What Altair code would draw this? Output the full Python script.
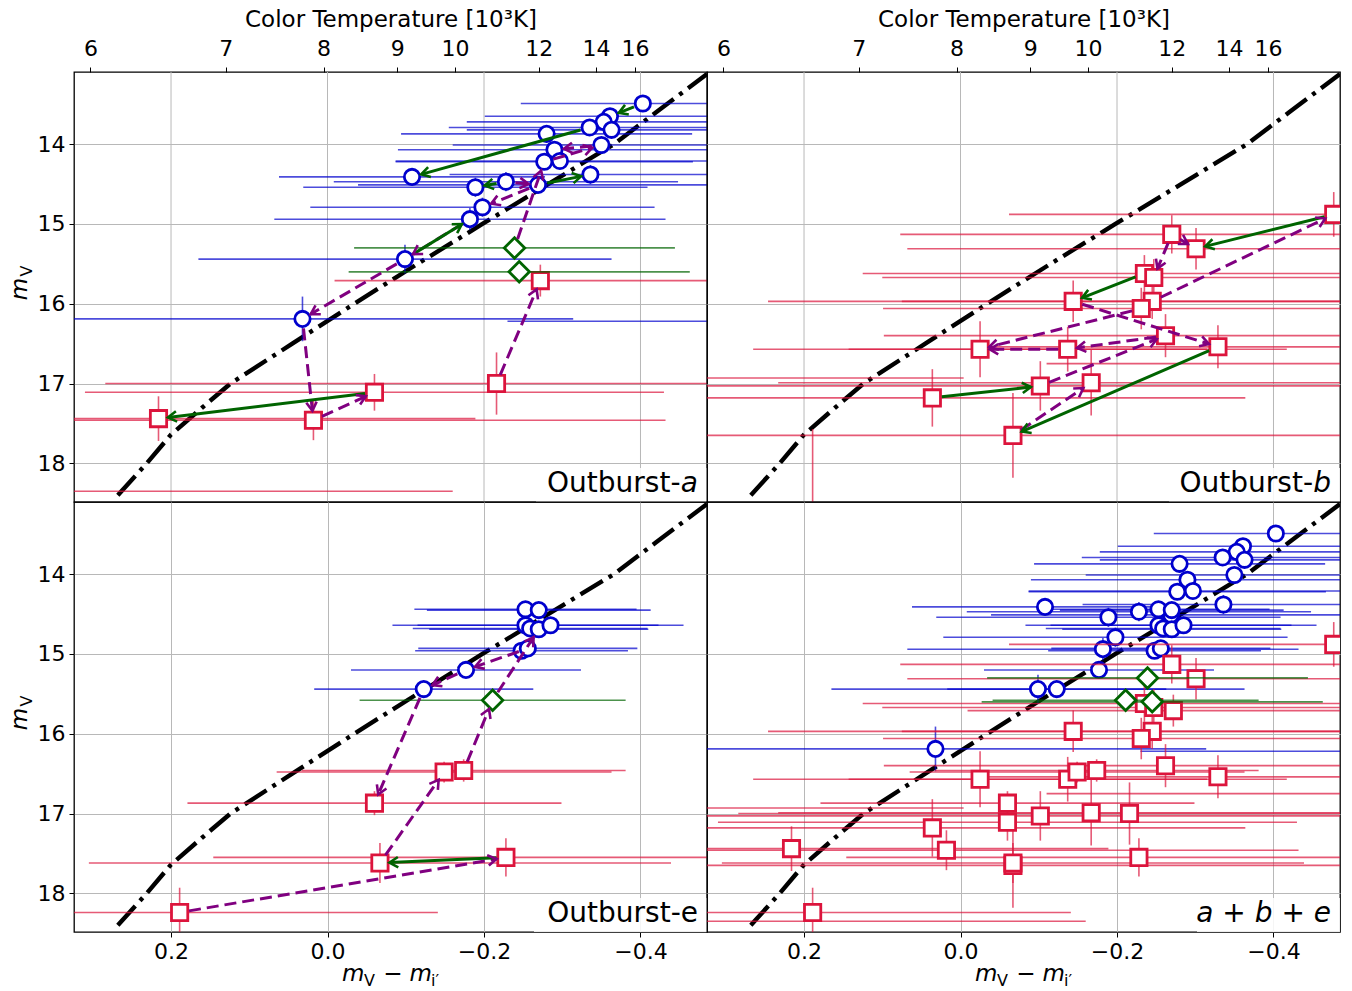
import math
import pandas as pd
import altair as alt

# ---------------- layout / axes ----------------
W, H = 633, 430
X_DOMAIN = [-0.485, 0.324]
Y_DOMAIN = [13.095, 18.485]
X_TICKS = [0.2, 0.0, -0.2, -0.4]
Y_TICKS = [14, 15, 16, 17, 18]
TEMP_POS = [0.303, 0.130, 0.005, -0.089, -0.163, -0.270, -0.343, -0.393]
TEMP_LABELS = ["6", "7", "8", "9", "10", "12", "14", "16"]
TOP_TITLE = "Color Temperature [10³K]"

# blackbody locus
BB_C = [0.268, 0.231, 0.200, 0.160, 0.124, 0.045, -0.034, -0.115, -0.198, -0.282, -0.366, -0.420, -0.485]
BB_M = [18.40, 18.00, 17.64, 17.30, 17.00, 16.50, 16.00, 15.50, 15.00, 14.50, 14.00, 13.60, 13.12]

# ---------------- Outburst-a ----------------
A_BLUE_C = [-0.403, -0.361, -0.353, -0.363, -0.335, -0.350, -0.280, -0.290, -0.277, -0.297,
            -0.108, -0.336, -0.228, -0.189, -0.269, -0.198, -0.182, -0.099, 0.032, -0.620]
A_BLUE_M = [13.49, 13.65, 13.72, 13.82, 13.79, 14.01, 13.87, 14.07, 14.22, 14.21,
            14.41, 14.38, 14.47, 14.54, 14.51, 14.79, 14.94, 15.44, 16.19, 16.22]
A_BLUE_XERR = [0.156, 0.160, 0.175, 0.185, 0.180, 0.190, 0.186, 0.200, 0.190, 0.210,
               0.170, 0.180, 0.220, 0.220, 0.230, 0.220, 0.250, 0.264, 0.346, 0.390]
A_BLUE_YERR = [0.08, 0.08, 0.08, 0.08, 0.08, 0.09, 0.10, 0.10, 0.10, 0.10,
               0.10, 0.12, 0.12, 0.12, 0.10, 0.12, 0.14, 0.18, 0.28, 0.10]
A_RED_C = [0.216, 0.018, -0.060, -0.216, -0.272, 0.360]
A_RED_M = [17.44, 17.46, 17.11, 17.00, 15.71, 18.35]
A_RED_XERR = [0.405, 0.450, 0.370, 0.500, 0.263, 0.520]
A_RED_YERR = [0.28, 0.25, 0.23, 0.39, 0.20, 0.20]
A_GRN_C = [-0.239, -0.245]
A_GRN_M = [15.30, 15.60]
A_GRN_XERR = [0.205, 0.218]
A_GRN_YERR = [0.10, 0.12]
ARROWS_A = [("r", 3, "r", 4, "p"), ("g", 0, "b", 8, "p"), ("b", 8, "b", 5, "p"), ("b", 5, "b", 7, "p"),
            ("b", 0, "b", 1, "g"), ("b", 4, "b", 10, "g"), ("b", 14, "b", 11, "g"), ("b", 12, "b", 13, "g"),
            ("b", 12, "b", 14, "p"), ("b", 14, "b", 15, "p"), ("b", 16, "b", 17, "p"), ("b", 17, "b", 16, "g"),
            ("b", 17, "b", 18, "p"), ("b", 18, "r", 1, "p"), ("r", 1, "r", 2, "p"), ("r", 2, "r", 0, "g")]

# ---------------- Outburst-b ----------------
B_RED_C = [-0.477, -0.270, -0.301, -0.235, -0.247, -0.144, -0.245, -0.231, -0.262, -0.329,
           -0.025, -0.137, -0.102, -0.167, 0.036, -0.067, 0.360, -0.600]
B_RED_M = [14.88, 15.13, 15.31, 15.62, 15.67, 15.97, 15.97, 16.06, 16.40, 16.54,
           16.57, 16.57, 17.03, 16.99, 17.18, 17.65, 16.93, 16.75]
B_RED_XERR = [0.415, 0.347, 0.369, 0.360, 0.347, 0.390, 0.320, 0.330, 0.360, 0.300,
              0.290, 0.280, 0.430, 0.400, 0.400, 0.450, 0.364, 0.490]
B_RED_YERR = [0.28, 0.24, 0.26, 0.23, 0.23, 0.26, 0.22, 0.26, 0.27, 0.27,
              0.35, 0.28, 0.31, 0.41, 0.36, 0.53, 0.20, 0.20]
B_EXTRA_C = [0.189]
B_EXTRA_M = [19.00]
B_EXTRA_XERR = [0.30]
B_EXTRA_YERR = [1.43]
ARROWS_B = [("r", 0, "r", 2, "g"), ("r", 3, "r", 5, "g"), ("r", 14, "r", 12, "g"), ("r", 9, "r", 15, "g"),
            ("r", 1, "r", 2, "p"), ("r", 1, "r", 4, "p"), ("r", 5, "r", 9, "p"), ("r", 6, "r", 0, "p"),
            ("r", 7, "r", 10, "p"), ("r", 11, "r", 10, "p"), ("r", 8, "r", 11, "p"), ("r", 12, "r", 8, "p"),
            ("r", 15, "r", 13, "p")]

# ---------------- Outburst-e ----------------
E_BLUE_C = [-0.253, -0.270, -0.253, -0.259, -0.270, -0.285, -0.248, -0.256, -0.177, -0.123]
E_BLUE_M = [14.44, 14.45, 14.64, 14.68, 14.69, 14.64, 14.96, 14.93, 15.20, 15.44]
E_BLUE_XERR = [0.142, 0.143, 0.170, 0.150, 0.140, 0.170, 0.136, 0.140, 0.147, 0.140]
E_BLUE_YERR = [0.07, 0.07, 0.07, 0.07, 0.07, 0.07, 0.08, 0.08, 0.10, 0.10]
E_RED_C = [-0.149, -0.174, -0.060, -0.228, -0.067, 0.189]
E_RED_M = [16.48, 16.46, 16.87, 17.55, 17.62, 18.24]
E_RED_XERR = [0.214, 0.207, 0.239, 0.374, 0.372, 0.330]
E_RED_YERR = [0.13, 0.14, 0.15, 0.24, 0.25, 0.31]
E_GRN_C = [-0.211]
E_GRN_M = [15.58]
E_GRN_XERR = [0.170]
E_GRN_YERR = [0.10]
ARROWS_E = [("r", 5, "r", 3, "p"), ("r", 3, "r", 4, "g"), ("r", 4, "r", 0, "p"), ("r", 1, "g", 0, "p"),
            ("g", 0, "b", 4, "p"), ("b", 7, "b", 8, "p"), ("b", 8, "b", 9, "p"), ("b", 9, "r", 2, "p")]

# ---------------- styles ----------------
FONT = "DejaVu Sans"
PURPLE = "#800080"
DKGREEN = "#006400"
GRID = "#b8b8b8"
STYLE = {
    "b": dict(shape="circle", size=235, color="#0000cd"),
    "r": dict(shape="square", size=265, color="#dc143c"),
    "g": dict(shape="diamond", size=420, color="#006400"),
}
ARROW_PATH = "M -1 -0.6 L 0 0 L -1 0.6"

PX = W / (X_DOMAIN[1] - X_DOMAIN[0])
PY = H / (Y_DOMAIN[1] - Y_DOMAIN[0])

XS = alt.Scale(domain=X_DOMAIN, reverse=True, nice=False, zero=False)
YS = alt.Scale(domain=Y_DOMAIN, reverse=True, nice=False, zero=False)

LABEL_EXPR = " : ".join(
    f"abs(datum.value - ({p})) < 0.0005 ? '{l}'" for p, l in zip(TEMP_POS, TEMP_LABELS)
) + " : ''"

AXIS_COMMON = dict(labelFont=FONT, labelFontSize=22, labelColor="black", tickColor="black",
                   tickSize=5, tickWidth=1, gridColor=GRID, gridWidth=1, domain=False,
                   labelOverlap=False, labelFlush=False)
AX_TOP = alt.Axis(orient="top", values=TEMP_POS, labelExpr=LABEL_EXPR, grid=False,
                  title=TOP_TITLE, titleFont=FONT, titleFontSize=23, titleFontWeight="normal",
                  titleColor="black", titlePadding=6, labelPadding=7, **AXIS_COMMON)
AX_BOTTOM = alt.Axis(orient="bottom", values=X_TICKS, format=".1f", grid=True, title=None,
                     labelPadding=4, **AXIS_COMMON)
AX_LEFT = alt.Axis(values=Y_TICKS, format="d", grid=True, title=None, labelPadding=4, **AXIS_COMMON)
AX_RIGHT = alt.Axis(values=Y_TICKS, grid=True, labels=False, ticks=False, domain=False, title=None,
                    gridColor=GRID, gridWidth=1)

ONE = pd.DataFrame({"k": [0]})


def make_df(c, m, xe, ye):
    return pd.DataFrame({
        "c": c, "m": m,
        "lo": [a - e for a, e in zip(c, xe)],
        "hi": [a + e for a, e in zip(c, xe)],
        "ylo": [a - e for a, e in zip(m, ye)],
        "yhi": [a + e for a, e in zip(m, ye)],
    })


A = {"b": (A_BLUE_C, A_BLUE_M, A_BLUE_XERR, A_BLUE_YERR),
     "r": (A_RED_C, A_RED_M, A_RED_XERR, A_RED_YERR),
     "g": (A_GRN_C, A_GRN_M, A_GRN_XERR, A_GRN_YERR)}
B = {"r": (B_RED_C, B_RED_M, B_RED_XERR, B_RED_YERR)}
E = {"b": (E_BLUE_C, E_BLUE_M, E_BLUE_XERR, E_BLUE_YERR),
     "r": (E_RED_C, E_RED_M, E_RED_XERR, E_RED_YERR),
     "g": (E_GRN_C, E_GRN_M, E_GRN_XERR, E_GRN_YERR)}
ALL = {}
for k in "brg":
    ALL[k] = tuple(sum((list(P[k][i]) for P in (A, B, E) if k in P), []) for i in range(4))


def arrow_df(P, arrows):
    rows = []
    for k1, i1, k2, i2, st in arrows:
        c1, m1 = P[k1][0][i1], P[k1][1][i1]
        c2, m2 = P[k2][0][i2], P[k2][1][i2]
        dx = -(c2 - c1) * PX
        dy = (m2 - m1) * PY
        L = math.hypot(dx, dy)
        ux, uy = dx / L, dy / L
        s0, s1 = 9.5, 9.5
        rows.append({
            "xa": c1 - ux * s0 / PX, "ya": m1 + uy * s0 / PY,
            "xb": c2 + ux * s1 / PX, "yb": m2 - uy * s1 / PY,
            "ang": math.degrees(math.atan2(uy, ux)) % 360,
            "col": PURPLE if st == "p" else DKGREEN, "st": st,
        })
    return pd.DataFrame(rows, columns=["xa", "ya", "xb", "yb", "ang", "col", "st"])


def text_layer(txt, x, y, size, italic=False, align="left", angle=0):
    kw = dict(text=txt, font=FONT, fontSize=size, align=align, baseline="alphabetic", color="black")
    if italic:
        kw["fontStyle"] = "italic"
    if angle:
        kw["angle"] = angle
    return alt.Chart(ONE).mark_text(**kw).encode(x=alt.value(x), y=alt.value(y))


def panel(P, arrows, top, left, label, extra=None, anchor=False):
    ax_x = AX_TOP if top else AX_BOTTOM
    ax_y = AX_LEFT if left else AX_RIGHT

    def X(f):
        return alt.X(f"{f}:Q", scale=XS, axis=ax_x)

    def Y(f):
        return alt.Y(f"{f}:Q", scale=YS, axis=ax_y)

    layers = []
    if top:
        layers.append(alt.Chart(pd.DataFrame({"g": X_TICKS})).mark_rule(color=GRID, strokeWidth=1)
                      .encode(x=X("g")))
    bb = pd.DataFrame({"c": BB_C, "m": BB_M, "i": list(range(len(BB_C)))})
    layers.append(alt.Chart(bb).mark_line(color="black", strokeWidth=4.4, strokeDash=[26, 7, 4, 7],
                                          clip=True)
                  .encode(x=X("c"), y=Y("m"), order="i:Q"))
    series = [(k, P[k], True) for k in "brg" if k in P]
    if extra is not None:
        series.insert(1, ("r", extra, False))
    for k, arrs, draw_marker in series:
        st = STYLE[k]
        df = make_df(*arrs)
        layers.append(alt.Chart(df).mark_rule(color=st["color"], opacity=0.7, strokeWidth=1.6, clip=True)
                      .encode(x=X("lo"), x2=alt.X2("hi"), y=Y("m")))
        layers.append(alt.Chart(df).mark_rule(color=st["color"], opacity=0.7, strokeWidth=1.6, clip=True)
                      .encode(x=X("c"), y=Y("ylo"), y2=alt.Y2("yhi")))
        if not draw_marker:
            continue
        layers.append(alt.Chart(df).mark_point(shape=st["shape"], size=st["size"], filled=True,
                                               fill="white", stroke=st["color"], strokeWidth=2.8,
                                               opacity=1, clip=True)
                      .encode(x=X("c"), y=Y("m")))
    if arrows:
        adf = arrow_df(P, arrows)
        layers.append(alt.Chart(adf[adf.st == "p"]).mark_rule(color=PURPLE, strokeWidth=3,
                                                               strokeDash=[12, 6], clip=True)
                      .encode(x=X("xa"), y=Y("ya"), x2=alt.X2("xb"), y2=alt.Y2("yb")))
        layers.append(alt.Chart(adf[adf.st == "g"]).mark_rule(color=DKGREEN, strokeWidth=3, clip=True)
                      .encode(x=X("xa"), y=Y("ya"), x2=alt.X2("xb"), y2=alt.Y2("yb")))
        layers.append(alt.Chart(adf).mark_point(shape=ARROW_PATH, filled=False, size=300, strokeWidth=2.6,
                                                opacity=1, clip=True)
                      .encode(x=X("xb"), y=Y("yb"), angle=alt.Angle("ang:Q", scale=None),
                              color=alt.Color("col:N", scale=None)))
    # label with white box
    box_x0 = label[3]
    layers.append(alt.Chart(ONE).mark_rect(fill="white", opacity=0.85)
                  .encode(x=alt.value(box_x0), x2=alt.value(W), y=alt.value(396), y2=alt.value(H)))
    for txt, xr, ital in label[:3]:
        if txt:
            layers.append(text_layer(txt, xr, 420, 28, italic=ital, align="right"))
    # axis titles built from text pieces
    if left:
        layers.append(text_layer("m", -47, 217, 23, italic=True, align="center", angle=270))
        layers.append(text_layer("V", -42, 199, 16, align="center", angle=270))
    if not top:
        layers.append(text_layer("m", 268, 479, 23, italic=True))
        layers.append(text_layer("V", 290, 484, 16))
        layers.append(text_layer("\u2212", 319, 479, 23, align="center"))
        layers.append(text_layer("m", 335.5, 479, 23, italic=True))
        layers.append(text_layer("i\u2032", 357, 484, 16))
    if anchor:
        layers.append(alt.Chart(ONE).mark_rule(strokeOpacity=0, color="white")
                      .encode(x=alt.value(-72.5), x2=alt.value(-72), y=alt.value(-70.5), y2=alt.value(-70)))
    return alt.layer(*layers).properties(width=W, height=H)


pa = panel(A, ARROWS_A, True, True, [("Outburst-", 606.5, False), ("a", 624, True), ("", 0, False), 462],
           anchor=True)
pb = panel(B, ARROWS_B, True, False, [("Outburst-", 606, False), ("b", 624, True), ("", 0, False), 462],
           extra=(B_EXTRA_C, B_EXTRA_M, B_EXTRA_XERR, B_EXTRA_YERR))
pe = panel(E, ARROWS_E, False, True, [("Outburst-e", 624, False), ("", 0, False), ("", 0, False), 460])
pall = panel(ALL, [], False, False, [("a + b + e", 624, True), ("", 0, False), ("", 0, False), 490])

chart = (alt.concat(pa, pb, pe, pall, columns=2, spacing=0, bounds="flush", padding=0,
                    background="white")
         .configure_view(stroke="black", strokeWidth=1.3))

chart.save("out.html", embed_options={"renderer": "svg", "actions": False})
